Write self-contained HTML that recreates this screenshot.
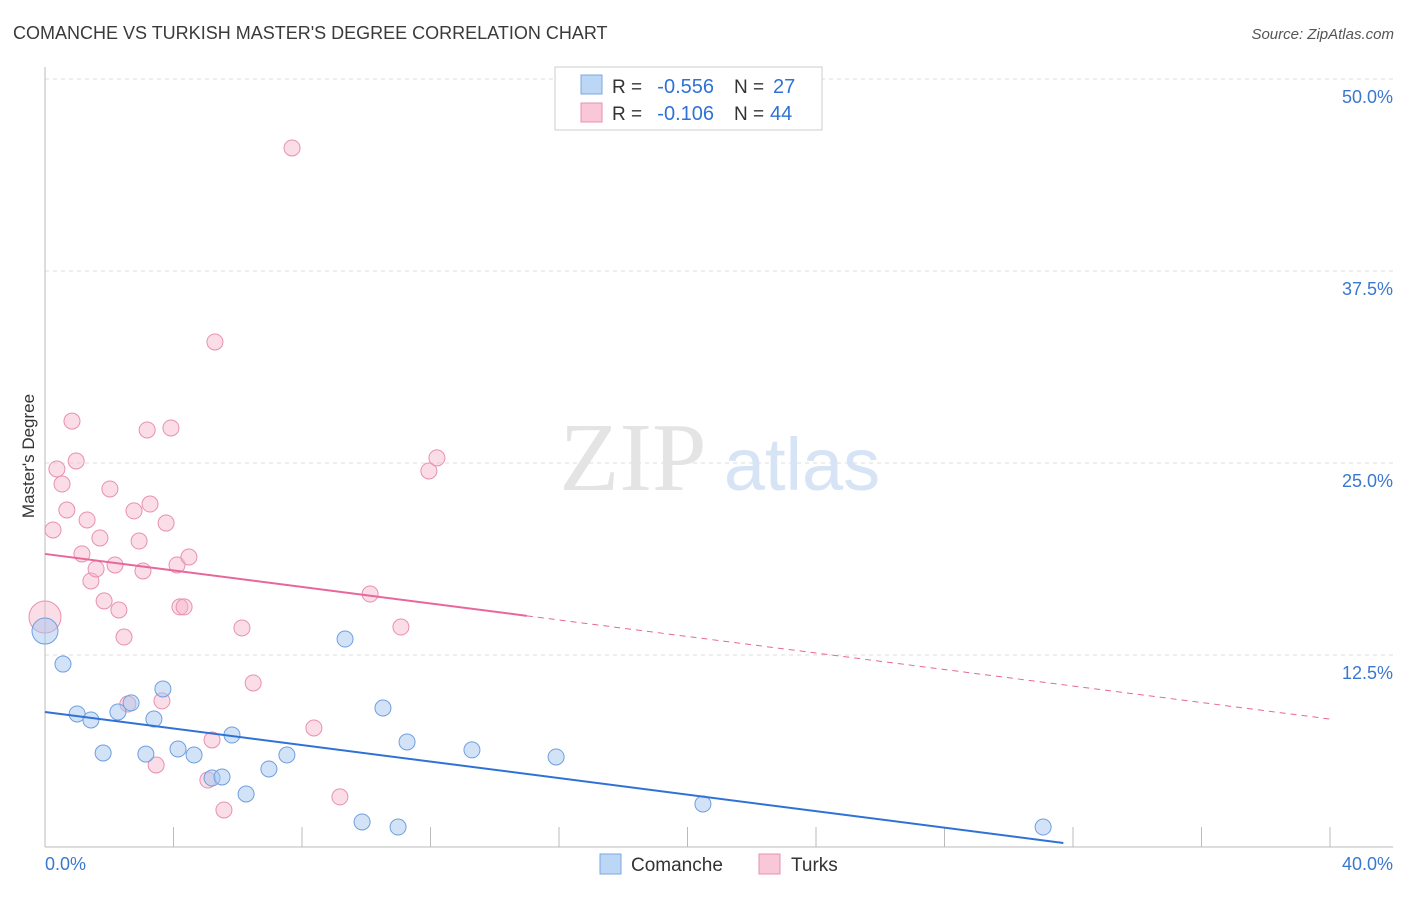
<!DOCTYPE html>
<html><head><meta charset="utf-8"><style>
body{margin:0;background:#fff;font-family:"Liberation Sans",sans-serif;}
</style></head><body>
<svg width="1406" height="892" viewBox="0 0 1406 892" xmlns="http://www.w3.org/2000/svg">
<text x="13" y="39" font-size="18" fill="#3a3a3a">COMANCHE VS TURKISH MASTER'S DEGREE CORRELATION CHART</text>
<text x="1394" y="39" font-size="15" fill="#555" font-style="italic" text-anchor="end">Source: ZipAtlas.com</text>
<g id="grid"></g>
<text x="633" y="490" font-size="98" fill="#e4e4e4" font-family="Liberation Serif,serif" text-anchor="middle">ZIP</text>
<text x="802" y="490" font-size="74" fill="#d6e4f5" text-anchor="middle">atlas</text>
<text transform="translate(34,456) rotate(-90)" font-size="17" fill="#333" text-anchor="middle">Master's Degree</text>
<g id="marks"></g>
<g>
<rect x="555" y="67" width="267" height="63" fill="#fff" stroke="#ccc"/>
<rect x="581" y="75" width="21" height="19" fill="#bcd6f6" stroke="#7aa8e0"/>
<rect x="581" y="103" width="21" height="19" fill="#f9c8d7" stroke="#e890b0"/>
<text x="612" y="93" font-size="19" fill="#333">R =</text>
<text x="714" y="93" font-size="20" fill="#2f72d6" text-anchor="end">-0.556</text>
<text x="734" y="93" font-size="19" fill="#333">N =</text>
<text x="773" y="93" font-size="20" fill="#2f72d6">27</text>
<text x="612" y="120" font-size="19" fill="#333">R =</text>
<text x="714" y="120" font-size="20" fill="#2f72d6" text-anchor="end">-0.106</text>
<text x="734" y="120" font-size="19" fill="#333">N =</text>
<text x="770" y="120" font-size="20" fill="#2f72d6">44</text>
</g>
<g>
<rect x="600" y="854" width="21" height="20" fill="#bcd6f6" stroke="#7aa8e0"/>
<text x="631" y="871" font-size="19" fill="#333">Comanche</text>
<rect x="759" y="854" width="21" height="20" fill="#f9c8d7" stroke="#e890b0"/>
<text x="791" y="871" font-size="19" fill="#333">Turks</text>
</g>
</svg>
<script>
const blueX=[0,0.56,1.0,1.43,1.81,2.27,2.68,3.14,3.39,3.67,4.14,4.64,5.2,5.51,5.82,6.26,6.97,7.53,9.34,9.87,10.52,10.99,11.27,13.29,15.91,20.48,31.07];
const blueY=[14.06,11.91,8.66,8.27,6.12,8.79,9.38,6.05,8.33,10.29,6.38,5.99,4.49,4.56,7.29,3.45,5.08,5.99,13.54,1.63,9.05,1.30,6.84,6.32,5.86,2.80,1.30];
const pinkX=[0,0.25,0.37,0.53,0.68,0.84,0.97,1.15,1.31,1.43,1.59,1.71,1.84,2.02,2.18,2.30,2.46,2.58,2.77,2.93,3.05,3.18,3.27,3.46,3.64,3.77,3.92,4.11,4.20,4.33,4.48,5.2,5.29,5.57,6.13,6.48,7.69,8.37,9.18,10.12,11.08,11.95,12.2,5.07];
const pinkY=[14.97,20.64,24.61,23.63,21.94,27.73,25.13,19.08,21.29,17.32,18.1,20.12,16.02,23.31,18.36,15.43,13.67,9.31,21.88,19.92,17.97,27.15,22.33,5.34,9.51,21.09,27.28,18.36,15.63,15.63,18.88,6.97,32.88,2.41,14.26,10.68,45.51,7.75,3.26,16.47,14.32,24.48,25.33,4.36];
const blueTrend=[8.79,-0.269];
const pinkTrend=[19.08,-0.269];
const yTicks=[12.5,25,37.5,50];
const xTicks=[0,4,8,12,16,20,24,28,32,36,40];
const NS='http://www.w3.org/2000/svg';
const sx=v=>45+v*32.125, sy=v=>847-v*15.36;
function mk(tag,attrs,parent){const e=document.createElementNS(NS,tag);for(const k in attrs)e.setAttribute(k,attrs[k]);parent.appendChild(e);return e;}
const grid=document.getElementById('grid'), marks=document.getElementById('marks');
yTicks.forEach(t=>{
 const l=mk('line',{x1:45,x2:1393,y1:sy(t),y2:sy(t),stroke:'#ddd','stroke-dasharray':'4,4'},grid);
 
 
 const tx=mk('text',{x:1393,y:sy(t)+24,'font-size':18,fill:'#3a78d0','text-anchor':'end'},grid);
 tx.textContent=t.toFixed(1)+'%';
 
 
});
let ax=mk('line',{x1:45,x2:1393,y1:847,y2:847,stroke:'#bbb'},grid);


let ay=mk('line',{x1:45,x2:45,y1:67,y2:847,stroke:'#bbb'},grid);


xTicks.forEach(t=>{
 const l=mk('line',{x1:sx(t),x2:sx(t),y1:827,y2:847,stroke:'#bbb'},grid);
 
 
});
[[0,'0.0%','start',45],[40,'40.0%','end',1393]].forEach(a=>{
 const tx=mk('text',{x:a[3],y:870,'font-size':18,fill:'#3a78d0','text-anchor':a[2]},grid);
 tx.textContent=a[1];
 
 
});
function pts(X,Y,fill,stroke,name,big){
 X.forEach((x,i)=>{
  const r=(i===0)?big:8;
  const c=mk('circle',{cx:sx(x),cy:sy(Y[i]),r:r,fill:fill,stroke:stroke,'stroke-width':1},marks);
  
  
 });
}
pts(pinkX,pinkY,'rgba(246,180,202,0.45)','#e890b0','turks-point',16);
pts(blueX,blueY,'rgba(165,200,240,0.5)','#6f9fe0','comanche-point',13);
let bl=mk('line',{x1:sx(0),y1:sy(blueTrend[0]),x2:sx(31.7),y2:sy(blueTrend[0]+blueTrend[1]*31.7),stroke:'#2f72d6','stroke-width':2},marks);


const ps=(19.08-8.33)/40;
let pl=mk('line',{x1:sx(0),y1:sy(pinkTrend[0]),x2:sx(15),y2:sy(pinkTrend[0]-ps*15),stroke:'#e8679a','stroke-width':2},marks);


let pd=mk('line',{x1:sx(15),y1:sy(pinkTrend[0]-ps*15),x2:sx(40),y2:sy(pinkTrend[0]-ps*40),stroke:'#e8679a','stroke-width':1,'stroke-dasharray':'6,5'},marks);


</script>
</body></html>
